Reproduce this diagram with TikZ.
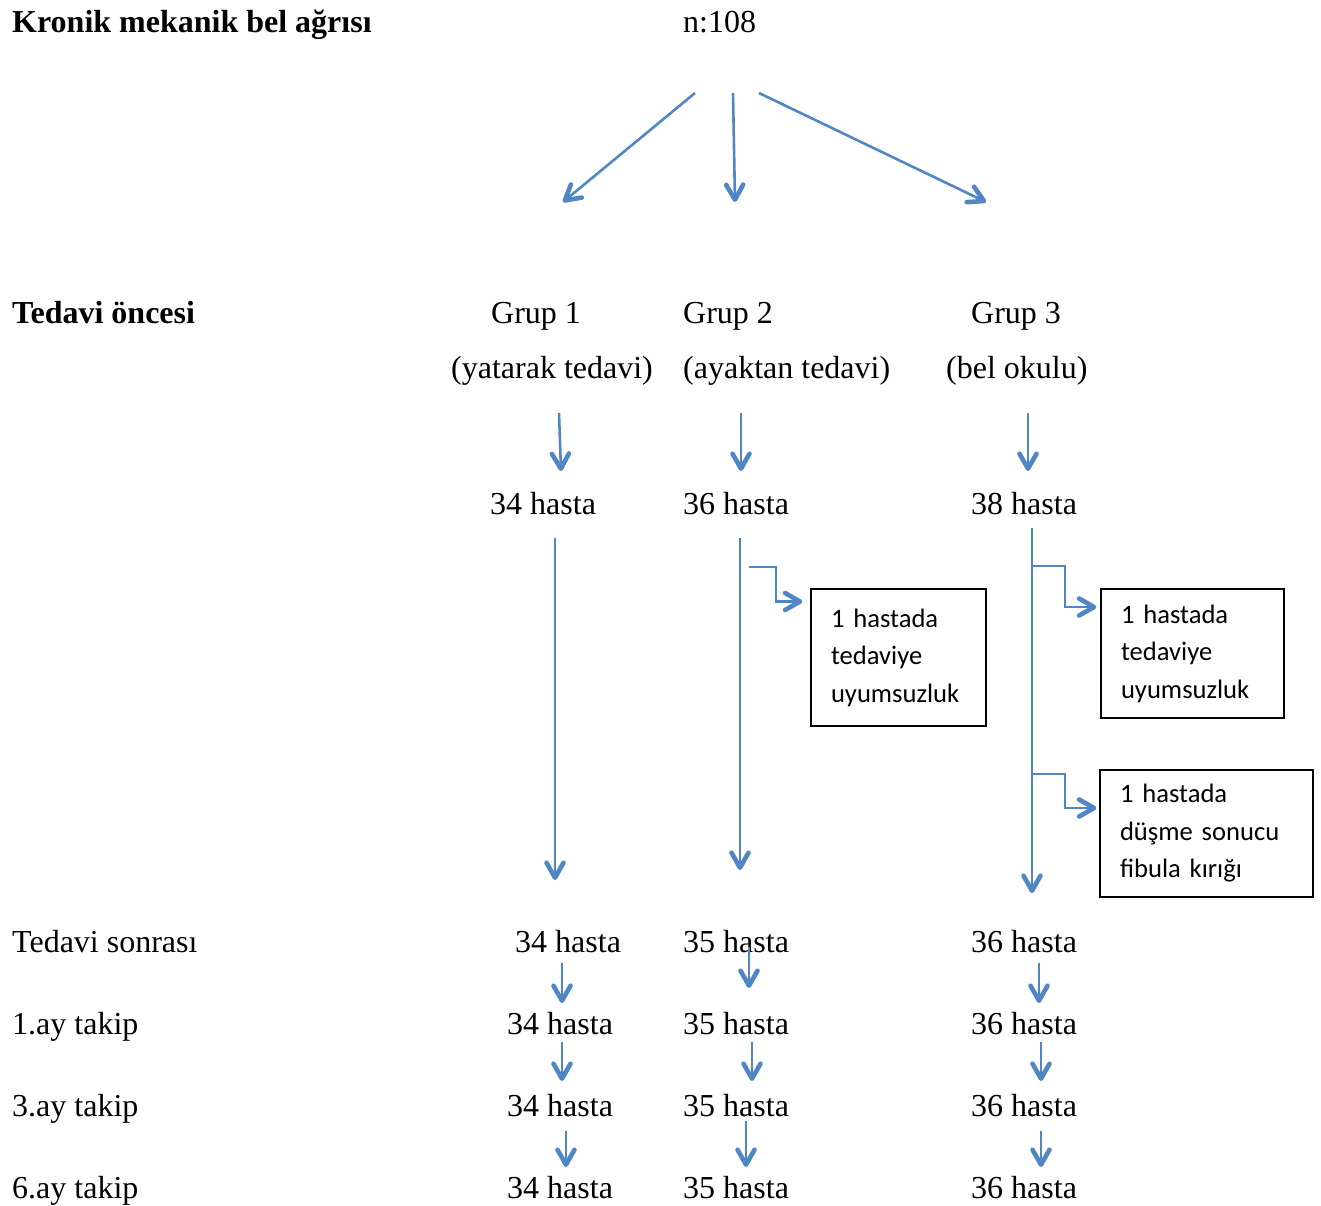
\documentclass[tikz,border=0pt]{standalone}
\usepackage{fontspec}
\setmainfont{Liberation Serif}
\newfontfamily\boxfont{Carlito}
\usetikzlibrary{arrows.meta,calc}
\definecolor{arrblue}{RGB}{80,134,196}
\begin{document}
\begin{tikzpicture}[x=1pt,y=-1pt,
  txt/.style={anchor=base west,inner sep=0pt,font=\fontsize{32}{38}\selectfont},
  btxt/.style={txt,font=\fontsize{32}{38}\selectfont\bfseries},
  arr/.style={draw=arrblue,line width=2.6pt,-{Straight Barb[length=15pt,width=17pt,line width=4.6pt,round]}},
  infobox/.style={draw=black,line width=1.3pt,inner sep=0pt,align=left,
    font=\boxfont\fontsize{26.6}{37.5}\selectfont}]
\useasboundingbox (0,0) rectangle (1321,1205);
% headings
\node[btxt] (t0) at (12,32) {Kronik mekanik bel ağrısı};
\node[txt] (n0) at (683,32) {n:108};
\node[btxt] (t1) at (12,323) {Tedavi öncesi};
\node[txt] (g1) at (491,323) {Grup 1};
\node[txt] (g2) at (683,323) {Grup 2};
\node[txt] (g3) at (971,323) {Grup 3};
\node[txt] (d1) at (451,378) {(yatarak tedavi)};
\node[txt] (d2) at (683,378) {(ayaktan tedavi)};
\node[txt] (d3) at (946,378) {(bel okulu)};
\node[txt] (h1) at (490,514) {34 hasta};
\node[txt] (h2) at (683,514) {36 hasta};
\node[txt] (h3) at (971,514) {38 hasta};
\node[txt] (t2) at (12,952) {Tedavi sonrası};
\node[txt] (s1) at (515,952) {34 hasta};
\node[txt] (s2) at (683,952) {35 hasta};
\node[txt] (s3) at (971,952) {36 hasta};
\node[txt] (t3) at (12,1034) {1.ay takip};
\node[txt] (a1) at (507,1034) {34 hasta};
\node[txt] (a2) at (683,1034) {35 hasta};
\node[txt] (a3) at (971,1034) {36 hasta};
\node[txt] (t4) at (12,1116) {3.ay takip};
\node[txt] (b1) at (507,1116) {34 hasta};
\node[txt] (b2) at (683,1116) {35 hasta};
\node[txt] (b3) at (971,1116) {36 hasta};
\node[txt] (t5) at (12,1198) {6.ay takip};
\node[txt] (c1) at (507,1198) {34 hasta};
\node[txt] (c2) at (683,1198) {35 hasta};
\node[txt] (c3) at (971,1198) {36 hasta};
% boxes
\node[infobox,minimum width=175pt,minimum height=137pt,text width=135pt] (x1) at (898.5,657.5)
  {1 hastada\\tedaviye\\uyumsuzluk};
\node[infobox,minimum width=183pt,minimum height=129pt,text width=143pt] (x2) at (1192.5,653.5)
  {1 hastada\\tedaviye\\uyumsuzluk};
\node[infobox,minimum width=213pt,minimum height=127pt,text width=173pt] (x3) at (1206.5,833.5)
  {1 hastada\\düşme sonucu\\fibula kırığı};
% top arrows
\draw[arr] ($(n0.base west)+(12,61)$) -- ($(g1.base west)+(72,-121)$);
\draw[arr] ($(n0.base west)+(50,61)$) -- ($(g2.base west)+(52,-121)$);
\draw[arr] ($(n0.base west)+(76,61)$) -- ($(g3.base west)+(15,-121)$);
% group to patients
\draw[arr] ($(d1.base west)+(108,35)$) -- ($(h1.base west)+(71,-43)$);
\draw[arr] ($(d2.base west)+(58,35)$) -- ($(h2.base west)+(58,-43)$);
\draw[arr] ($(d3.base west)+(82,35)$) -- ($(h3.base west)+(57,-43)$);
% long arrows
\draw[arr] ($(h1.base west)+(65,24)$) -- ($(s1.base west)+(40,-72)$);
\draw[arr] ($(h2.base west)+(57,24)$) -- ($(s2.base west)+(57,-82)$);
\draw[arr] ($(h3.base west)+(61,14)$) -- ($(s3.base west)+(61,-59)$);
% branches
\draw[arr] ($(h2.base west)+(66,53)$) -- ++(27,0) |- ($(x1.west)+(-8,-56)$);
\draw[arr] ($(h3.base west)+(61,52)$) -- ++(33,0) |- ($(x2.west)+(-4,-46.5)$);
\draw[arr] ($(h3.base west)+(61,260)$) -- ++(33,0) |- ($(x3.west)+(-3,-25.5)$);
% follow-up arrows
\draw[arr] ($(s1.base west)+(47,11)$) -- ($(a1.base west)+(55,-31)$);
\draw[arr] ($(a1.base west)+(55,8)$) -- ($(b1.base west)+(55,-35)$);
\draw[arr] ($(b1.base west)+(59,15)$) -- ($(c1.base west)+(59,-31)$);
\draw[arr] ($(s2.base west)+(66,-5)$) -- ($(a2.base west)+(66,-46)$);
\draw[arr] ($(a2.base west)+(69,8)$) -- ($(b2.base west)+(69,-35)$);
\draw[arr] ($(b2.base west)+(63,5)$) -- ($(c2.base west)+(63,-31)$);
\draw[arr] ($(s3.base west)+(68,11)$) -- ($(a3.base west)+(68,-31)$);
\draw[arr] ($(a3.base west)+(70,8)$) -- ($(b3.base west)+(70,-35)$);
\draw[arr] ($(b3.base west)+(70,15)$) -- ($(c3.base west)+(70,-31)$);
\end{tikzpicture}
\end{document}
